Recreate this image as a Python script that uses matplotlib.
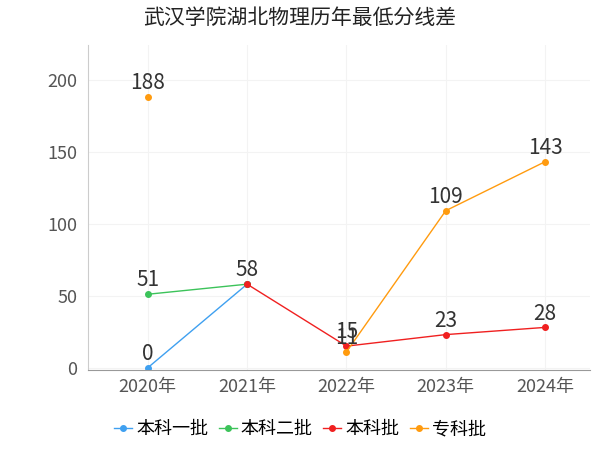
import matplotlib
matplotlib.use("Agg")
import matplotlib.pyplot as plt
from matplotlib import font_manager
import numpy as np

avail = {f.name for f in font_manager.fontManager.ttflist}
cands = [n for n in ["Noto Sans CJK SC", "Noto Sans CJK JP", "Noto Sans CJK TC", "Noto Sans CJK KR"] if n in avail]
plt.rcParams['font.family'] = 'sans-serif'
plt.rcParams['font.sans-serif'] = cands + ["DejaVu Sans"]

years = ["2020年", "2021年", "2022年", "2023年", "2024年"]
s1 = [0, 58, None, None, None]
s2 = [51, 58, None, None, None]
s3 = [None, 58, 15, 23, 28]
s4 = [188, None, 11, 109, 143]
names = ["本科一批", "本科二批", "本科批", "专科批"]
colors = ["#3fa0f0", "#3cc35a", "#f02020", "#ff9b0f"]

fig = plt.figure(figsize=(6, 4.5), dpi=100)
ax = fig.add_axes([0.147, 0.178, 0.836, 0.722])
x = np.arange(len(years))
seen = set()
for s, n, c in zip([s1, s2, s3, s4], names, colors):
    y = np.array([np.nan if v is None else v for v in s], dtype=float)
    ax.plot(x, y, color=c, lw=1, marker='o', ms=4, label=n)
    for xi, v in zip(x, s):
        if v is not None and (xi, v) not in seen:
            seen.add((xi, v))
            ax.text(xi, v + 2, str(v), ha='center', va='bottom', fontsize=15, color='#333333')

ax.set_xlim(-0.6, 4.45)
ax.set_ylim(-1.5, 224)
ax.set_yticks([0, 50, 100, 150, 200])
ax.set_xticks(x)
ax.set_xticklabels(years)
ax.tick_params(axis='both', labelsize=13, colors='#555555', length=0, pad=6)
ax.tick_params(axis='y', pad=8)
ax.grid(True, color='#f3f3f3', lw=0.8)
for sp in ['top', 'right']:
    ax.spines[sp].set_visible(False)
ax.spines['left'].set_color('#cccccc')
ax.spines['bottom'].set_color('#999999')
fig.suptitle("武汉学院湖北物理历年最低分线差", fontsize=15, x=0.5, y=0.985, color='#222222')
fig.legend(loc='lower center', ncol=4, frameon=False, fontsize=13, bbox_to_anchor=(0.5, -0.01),
           handlelength=1.0, handletextpad=0.2, columnspacing=0.6)
fig.savefig("out.png")
